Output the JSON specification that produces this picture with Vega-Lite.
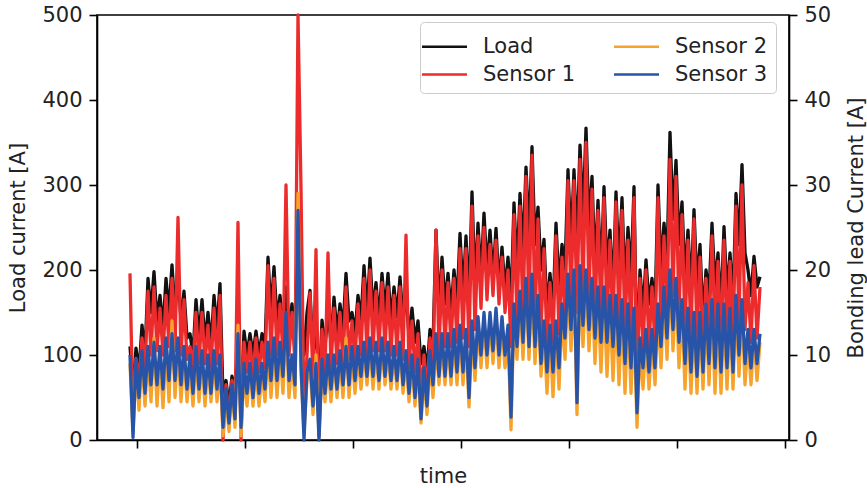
{
"$schema": "https://vega.github.io/schema/vega-lite/v6.json",
"width": 692, "height": 425,
"autosize": {"type": "none"},
"padding": {"left": 97, "top": 15, "right": 78, "bottom": 48},
"config": {
 "font": "DejaVu Sans",
 "view": {"stroke": "#000", "strokeWidth": 1.6},
 "axis": {"domainColor": "#000", "domainWidth": 1.6, "tickColor": "#000", "tickWidth": 1.6, "tickSize": 8, "labelFontSize": 21, "labelColor": "#222", "labelPadding": 7, "titleFontSize": 21, "titleFontWeight": "normal", "titleColor": "#222", "grid": false}
},
"data": {"values": [
{"t":-7,"Load":110,"Sensor 1":19.6,"Sensor 2":9.0,"Sensor 3":10.0},
{"t":-4,"Load":60,"Sensor 1":2.5,"Sensor 2":1.0,"Sensor 3":0.3},
{"t":-1,"Load":108,"Sensor 1":9.6,"Sensor 2":8.5,"Sensor 3":9.5},
{"t":2,"Load":80,"Sensor 1":7.0,"Sensor 2":3.5,"Sensor 3":5.0},
{"t":5,"Load":135,"Sensor 1":12.0,"Sensor 2":9.5,"Sensor 3":10.5},
{"t":8,"Load":100,"Sensor 1":8.5,"Sensor 2":4.0,"Sensor 3":5.5},
{"t":11,"Load":190,"Sensor 1":17.5,"Sensor 2":10.0,"Sensor 3":11.0},
{"t":14,"Load":150,"Sensor 1":10.0,"Sensor 2":4.5,"Sensor 3":6.5},
{"t":17,"Load":198,"Sensor 1":18.0,"Sensor 2":12.0,"Sensor 3":11.5},
{"t":20,"Load":140,"Sensor 1":10.5,"Sensor 2":4.0,"Sensor 3":6.5},
{"t":23,"Load":170,"Sensor 1":15.5,"Sensor 2":10.0,"Sensor 3":11.0},
{"t":26,"Load":130,"Sensor 1":10.0,"Sensor 2":3.8,"Sensor 3":6.0},
{"t":29,"Load":190,"Sensor 1":17.0,"Sensor 2":11.0,"Sensor 3":12.0},
{"t":32,"Load":150,"Sensor 1":11.0,"Sensor 2":4.5,"Sensor 3":7.0},
{"t":35,"Load":206,"Sensor 1":19.0,"Sensor 2":14.0,"Sensor 3":12.5},
{"t":38,"Load":150,"Sensor 1":10.5,"Sensor 2":5.0,"Sensor 3":7.0},
{"t":41,"Load":195,"Sensor 1":26.2,"Sensor 2":11.0,"Sensor 3":12.0},
{"t":44,"Load":140,"Sensor 1":10.0,"Sensor 2":4.5,"Sensor 3":6.5},
{"t":47,"Load":175,"Sensor 1":16.5,"Sensor 2":10.0,"Sensor 3":11.0},
{"t":50,"Load":120,"Sensor 1":9.5,"Sensor 2":4.5,"Sensor 3":6.0},
{"t":53,"Load":125,"Sensor 1":11.0,"Sensor 2":9.0,"Sensor 3":10.0},
{"t":56,"Load":100,"Sensor 1":8.5,"Sensor 2":4.0,"Sensor 3":5.5},
{"t":59,"Load":165,"Sensor 1":15.0,"Sensor 2":10.0,"Sensor 3":11.0},
{"t":62,"Load":120,"Sensor 1":9.0,"Sensor 2":4.5,"Sensor 3":6.0},
{"t":65,"Load":165,"Sensor 1":15.0,"Sensor 2":9.5,"Sensor 3":10.5},
{"t":68,"Load":115,"Sensor 1":9.0,"Sensor 2":4.0,"Sensor 3":5.5},
{"t":71,"Load":150,"Sensor 1":13.5,"Sensor 2":9.0,"Sensor 3":10.0},
{"t":74,"Load":110,"Sensor 1":8.5,"Sensor 2":4.5,"Sensor 3":5.5},
{"t":77,"Load":170,"Sensor 1":15.5,"Sensor 2":9.5,"Sensor 3":10.5},
{"t":80,"Load":130,"Sensor 1":9.0,"Sensor 2":4.5,"Sensor 3":6.0},
{"t":83,"Load":184,"Sensor 1":17.0,"Sensor 2":9.0,"Sensor 3":10.0},
{"t":86,"Load":50,"Sensor 1":0.0,"Sensor 2":0.5,"Sensor 3":1.5},
{"t":89,"Load":70,"Sensor 1":6.5,"Sensor 2":5.0,"Sensor 3":6.0},
{"t":92,"Load":40,"Sensor 1":2.5,"Sensor 2":1.0,"Sensor 3":2.0},
{"t":95,"Load":75,"Sensor 1":7.0,"Sensor 2":6.0,"Sensor 3":6.5},
{"t":98,"Load":55,"Sensor 1":3.0,"Sensor 2":1.5,"Sensor 3":2.5},
{"t":101,"Load":100,"Sensor 1":25.6,"Sensor 2":13.5,"Sensor 3":12.5},
{"t":104,"Load":40,"Sensor 1":0.0,"Sensor 2":0.5,"Sensor 3":1.5},
{"t":107,"Load":128,"Sensor 1":11.5,"Sensor 2":8.0,"Sensor 3":9.0},
{"t":110,"Load":100,"Sensor 1":8.0,"Sensor 2":4.0,"Sensor 3":5.5},
{"t":113,"Load":125,"Sensor 1":11.5,"Sensor 2":8.5,"Sensor 3":9.0},
{"t":116,"Load":100,"Sensor 1":7.5,"Sensor 2":4.0,"Sensor 3":5.0},
{"t":119,"Load":128,"Sensor 1":12.0,"Sensor 2":8.5,"Sensor 3":9.5},
{"t":122,"Load":100,"Sensor 1":8.0,"Sensor 2":4.0,"Sensor 3":5.5},
{"t":125,"Load":125,"Sensor 1":11.5,"Sensor 2":8.0,"Sensor 3":9.0},
{"t":128,"Load":110,"Sensor 1":8.5,"Sensor 2":4.5,"Sensor 3":6.0},
{"t":131,"Load":215,"Sensor 1":20.5,"Sensor 2":10.5,"Sensor 3":11.5},
{"t":134,"Load":150,"Sensor 1":10.0,"Sensor 2":5.0,"Sensor 3":7.0},
{"t":137,"Load":204,"Sensor 1":19.0,"Sensor 2":11.0,"Sensor 3":12.0},
{"t":140,"Load":140,"Sensor 1":10.0,"Sensor 2":5.0,"Sensor 3":7.0},
{"t":143,"Load":170,"Sensor 1":16.0,"Sensor 2":10.5,"Sensor 3":11.5},
{"t":146,"Load":130,"Sensor 1":10.0,"Sensor 2":5.5,"Sensor 3":7.5},
{"t":149,"Load":180,"Sensor 1":30.0,"Sensor 2":14.0,"Sensor 3":15.0},
{"t":152,"Load":130,"Sensor 1":10.0,"Sensor 2":5.0,"Sensor 3":7.0},
{"t":155,"Load":160,"Sensor 1":15.0,"Sensor 2":9.5,"Sensor 3":10.0},
{"t":158,"Load":120,"Sensor 1":9.0,"Sensor 2":5.0,"Sensor 3":6.5},
{"t":161,"Load":165,"Sensor 1":50.0,"Sensor 2":29.0,"Sensor 3":27.0},
{"t":164,"Load":150,"Sensor 1":29.6,"Sensor 2":8.0,"Sensor 3":9.0},
{"t":167,"Load":100,"Sensor 1":3.0,"Sensor 2":1.0,"Sensor 3":0.0},
{"t":170,"Load":150,"Sensor 1":10.0,"Sensor 2":7.0,"Sensor 3":8.0},
{"t":173,"Load":176,"Sensor 1":17.3,"Sensor 2":8.5,"Sensor 3":9.5},
{"t":176,"Load":100,"Sensor 1":7.0,"Sensor 2":3.0,"Sensor 3":4.0},
{"t":179,"Load":140,"Sensor 1":22.4,"Sensor 2":10.0,"Sensor 3":9.0},
{"t":182,"Load":50,"Sensor 1":0.5,"Sensor 2":0.5,"Sensor 3":0.0},
{"t":185,"Load":141,"Sensor 1":13.0,"Sensor 2":8.5,"Sensor 3":9.5},
{"t":188,"Load":110,"Sensor 1":8.0,"Sensor 2":4.5,"Sensor 3":5.5},
{"t":191,"Load":150,"Sensor 1":22.0,"Sensor 2":9.0,"Sensor 3":10.0},
{"t":194,"Load":115,"Sensor 1":8.5,"Sensor 2":4.5,"Sensor 3":6.0},
{"t":197,"Load":168,"Sensor 1":15.5,"Sensor 2":9.5,"Sensor 3":10.0},
{"t":200,"Load":125,"Sensor 1":9.0,"Sensor 2":5.0,"Sensor 3":6.0},
{"t":203,"Load":160,"Sensor 1":15.0,"Sensor 2":9.5,"Sensor 3":10.5},
{"t":206,"Load":130,"Sensor 1":9.0,"Sensor 2":5.0,"Sensor 3":6.5},
{"t":209,"Load":196,"Sensor 1":18.0,"Sensor 2":12.0,"Sensor 3":11.0},
{"t":212,"Load":140,"Sensor 1":9.5,"Sensor 2":5.0,"Sensor 3":6.5},
{"t":215,"Load":150,"Sensor 1":14.0,"Sensor 2":10.0,"Sensor 3":11.0},
{"t":218,"Load":125,"Sensor 1":9.5,"Sensor 2":5.5,"Sensor 3":7.0},
{"t":221,"Load":170,"Sensor 1":16.0,"Sensor 2":10.0,"Sensor 3":11.0},
{"t":224,"Load":140,"Sensor 1":10.0,"Sensor 2":6.0,"Sensor 3":7.5},
{"t":227,"Load":205,"Sensor 1":19.0,"Sensor 2":10.5,"Sensor 3":11.5},
{"t":230,"Load":150,"Sensor 1":10.0,"Sensor 2":6.5,"Sensor 3":7.5},
{"t":233,"Load":214,"Sensor 1":20.0,"Sensor 2":11.0,"Sensor 3":12.0},
{"t":236,"Load":150,"Sensor 1":10.5,"Sensor 2":6.0,"Sensor 3":7.5},
{"t":239,"Load":185,"Sensor 1":17.5,"Sensor 2":10.5,"Sensor 3":11.5},
{"t":242,"Load":140,"Sensor 1":10.5,"Sensor 2":6.0,"Sensor 3":7.0},
{"t":245,"Load":196,"Sensor 1":18.5,"Sensor 2":11.0,"Sensor 3":12.0},
{"t":248,"Load":150,"Sensor 1":10.5,"Sensor 2":6.5,"Sensor 3":7.5},
{"t":251,"Load":196,"Sensor 1":18.0,"Sensor 2":10.5,"Sensor 3":11.5},
{"t":254,"Load":140,"Sensor 1":10.0,"Sensor 2":6.0,"Sensor 3":7.0},
{"t":257,"Load":180,"Sensor 1":17.0,"Sensor 2":10.0,"Sensor 3":11.0},
{"t":260,"Load":145,"Sensor 1":10.0,"Sensor 2":6.0,"Sensor 3":7.0},
{"t":263,"Load":192,"Sensor 1":18.0,"Sensor 2":11.0,"Sensor 3":11.5},
{"t":266,"Load":140,"Sensor 1":9.5,"Sensor 2":5.5,"Sensor 3":6.5},
{"t":269,"Load":176,"Sensor 1":24.1,"Sensor 2":9.5,"Sensor 3":10.5},
{"t":272,"Load":120,"Sensor 1":8.5,"Sensor 2":4.5,"Sensor 3":5.5},
{"t":275,"Load":155,"Sensor 1":14.0,"Sensor 2":9.0,"Sensor 3":10.0},
{"t":278,"Load":115,"Sensor 1":8.0,"Sensor 2":4.0,"Sensor 3":5.0},
{"t":281,"Load":140,"Sensor 1":12.5,"Sensor 2":9.0,"Sensor 3":9.5},
{"t":284,"Load":90,"Sensor 1":5.0,"Sensor 2":2.0,"Sensor 3":2.5},
{"t":287,"Load":110,"Sensor 1":10.0,"Sensor 2":7.5,"Sensor 3":8.5},
{"t":290,"Load":80,"Sensor 1":5.5,"Sensor 2":3.0,"Sensor 3":4.0},
{"t":293,"Load":130,"Sensor 1":12.0,"Sensor 2":9.5,"Sensor 3":10.5},
{"t":296,"Load":110,"Sensor 1":8.5,"Sensor 2":5.0,"Sensor 3":6.5},
{"t":299,"Load":247,"Sensor 1":24.7,"Sensor 2":11.5,"Sensor 3":12.5},
{"t":302,"Load":150,"Sensor 1":10.5,"Sensor 2":6.5,"Sensor 3":7.5},
{"t":305,"Load":215,"Sensor 1":20.0,"Sensor 2":11.5,"Sensor 3":12.5},
{"t":308,"Load":160,"Sensor 1":11.0,"Sensor 2":6.5,"Sensor 3":7.5},
{"t":311,"Load":196,"Sensor 1":18.5,"Sensor 2":11.5,"Sensor 3":12.5},
{"t":314,"Load":150,"Sensor 1":11.0,"Sensor 2":6.5,"Sensor 3":7.5},
{"t":317,"Load":200,"Sensor 1":19.0,"Sensor 2":12.0,"Sensor 3":13.0},
{"t":320,"Load":160,"Sensor 1":11.5,"Sensor 2":6.5,"Sensor 3":8.0},
{"t":323,"Load":243,"Sensor 1":22.5,"Sensor 2":12.5,"Sensor 3":13.5},
{"t":326,"Load":170,"Sensor 1":12.0,"Sensor 2":6.5,"Sensor 3":8.0},
{"t":329,"Load":240,"Sensor 1":22.5,"Sensor 2":12.0,"Sensor 3":13.0},
{"t":332,"Load":160,"Sensor 1":11.0,"Sensor 2":3.9,"Sensor 3":5.0},
{"t":335,"Load":292,"Sensor 1":27.5,"Sensor 2":13.0,"Sensor 3":14.0},
{"t":338,"Load":180,"Sensor 1":13.0,"Sensor 2":7.0,"Sensor 3":8.5},
{"t":341,"Load":255,"Sensor 1":24.0,"Sensor 2":13.5,"Sensor 3":14.5},
{"t":344,"Load":190,"Sensor 1":15.5,"Sensor 2":8.5,"Sensor 3":10.0},
{"t":347,"Load":267,"Sensor 1":25.0,"Sensor 2":14.0,"Sensor 3":15.0},
{"t":350,"Load":200,"Sensor 1":16.5,"Sensor 2":8.5,"Sensor 3":10.0},
{"t":353,"Load":247,"Sensor 1":23.0,"Sensor 2":14.0,"Sensor 3":15.0},
{"t":356,"Load":190,"Sensor 1":17.0,"Sensor 2":9.0,"Sensor 3":10.5},
{"t":359,"Load":249,"Sensor 1":23.5,"Sensor 2":14.5,"Sensor 3":15.5},
{"t":362,"Load":180,"Sensor 1":16.0,"Sensor 2":8.5,"Sensor 3":10.0},
{"t":365,"Load":227,"Sensor 1":21.5,"Sensor 2":13.5,"Sensor 3":14.5},
{"t":368,"Load":175,"Sensor 1":15.0,"Sensor 2":8.5,"Sensor 3":10.0},
{"t":371,"Load":215,"Sensor 1":20.0,"Sensor 2":12.5,"Sensor 3":13.5},
{"t":374,"Load":160,"Sensor 1":11.0,"Sensor 2":1.2,"Sensor 3":2.7},
{"t":377,"Load":279,"Sensor 1":26.5,"Sensor 2":15.0,"Sensor 3":16.0},
{"t":380,"Load":200,"Sensor 1":14.0,"Sensor 2":9.5,"Sensor 3":11.0},
{"t":383,"Load":290,"Sensor 1":27.5,"Sensor 2":16.5,"Sensor 3":17.5},
{"t":386,"Load":220,"Sensor 1":14.0,"Sensor 2":9.5,"Sensor 3":11.5},
{"t":389,"Load":321,"Sensor 1":31.0,"Sensor 2":18.0,"Sensor 3":19.0},
{"t":392,"Load":240,"Sensor 1":14.5,"Sensor 2":9.5,"Sensor 3":11.0},
{"t":395,"Load":345,"Sensor 1":33.5,"Sensor 2":18.0,"Sensor 3":19.5},
{"t":398,"Load":230,"Sensor 1":14.0,"Sensor 2":9.0,"Sensor 3":11.0},
{"t":401,"Load":274,"Sensor 1":26.0,"Sensor 2":16.0,"Sensor 3":17.0},
{"t":404,"Load":200,"Sensor 1":12.5,"Sensor 2":7.5,"Sensor 3":9.0},
{"t":407,"Load":236,"Sensor 1":22.5,"Sensor 2":13.0,"Sensor 3":14.0},
{"t":410,"Load":150,"Sensor 1":11.0,"Sensor 2":5.5,"Sensor 3":8.0},
{"t":413,"Load":196,"Sensor 1":18.5,"Sensor 2":12.5,"Sensor 3":13.5},
{"t":416,"Load":150,"Sensor 1":11.5,"Sensor 2":5.1,"Sensor 3":8.0},
{"t":419,"Load":255,"Sensor 1":24.0,"Sensor 2":13.0,"Sensor 3":14.0},
{"t":422,"Load":180,"Sensor 1":12.5,"Sensor 2":6.0,"Sensor 3":8.5},
{"t":425,"Load":230,"Sensor 1":21.5,"Sensor 2":15.0,"Sensor 3":16.0},
{"t":428,"Load":200,"Sensor 1":14.0,"Sensor 2":9.5,"Sensor 3":12.0},
{"t":431,"Load":318,"Sensor 1":30.5,"Sensor 2":18.5,"Sensor 3":19.5},
{"t":434,"Load":230,"Sensor 1":16.0,"Sensor 2":10.5,"Sensor 3":13.0},
{"t":437,"Load":318,"Sensor 1":30.5,"Sensor 2":19.0,"Sensor 3":20.0},
{"t":440,"Load":230,"Sensor 1":15.0,"Sensor 2":3.0,"Sensor 3":4.4},
{"t":443,"Load":347,"Sensor 1":33.0,"Sensor 2":19.5,"Sensor 3":20.5},
{"t":446,"Load":260,"Sensor 1":17.0,"Sensor 2":11.0,"Sensor 3":13.5},
{"t":449,"Load":367,"Sensor 1":35.0,"Sensor 2":19.0,"Sensor 3":20.0},
{"t":452,"Load":250,"Sensor 1":16.5,"Sensor 2":10.5,"Sensor 3":13.0},
{"t":455,"Load":310,"Sensor 1":29.5,"Sensor 2":18.0,"Sensor 3":19.0},
{"t":458,"Load":200,"Sensor 1":14.0,"Sensor 2":9.0,"Sensor 3":12.0},
{"t":461,"Load":282,"Sensor 1":27.0,"Sensor 2":17.0,"Sensor 3":18.0},
{"t":464,"Load":190,"Sensor 1":14.0,"Sensor 2":8.0,"Sensor 3":11.5},
{"t":467,"Load":298,"Sensor 1":28.5,"Sensor 2":17.0,"Sensor 3":18.0},
{"t":470,"Load":200,"Sensor 1":14.0,"Sensor 2":7.5,"Sensor 3":11.5},
{"t":473,"Load":247,"Sensor 1":23.5,"Sensor 2":16.0,"Sensor 3":17.0},
{"t":476,"Load":170,"Sensor 1":13.0,"Sensor 2":7.0,"Sensor 3":11.0},
{"t":479,"Load":292,"Sensor 1":28.0,"Sensor 2":16.0,"Sensor 3":17.0},
{"t":482,"Load":200,"Sensor 1":13.0,"Sensor 2":6.5,"Sensor 3":10.0},
{"t":485,"Load":285,"Sensor 1":27.0,"Sensor 2":15.5,"Sensor 3":16.5},
{"t":488,"Load":180,"Sensor 1":12.5,"Sensor 2":5.5,"Sensor 3":9.0},
{"t":491,"Load":250,"Sensor 1":23.5,"Sensor 2":15.0,"Sensor 3":16.0},
{"t":494,"Load":190,"Sensor 1":12.0,"Sensor 2":5.5,"Sensor 3":8.5},
{"t":497,"Load":298,"Sensor 1":28.5,"Sensor 2":14.5,"Sensor 3":15.5},
{"t":500,"Load":90,"Sensor 1":7.0,"Sensor 2":1.5,"Sensor 3":3.2},
{"t":503,"Load":200,"Sensor 1":19.0,"Sensor 2":11.0,"Sensor 3":12.0},
{"t":506,"Load":150,"Sensor 1":10.5,"Sensor 2":6.0,"Sensor 3":8.5},
{"t":509,"Load":212,"Sensor 1":20.0,"Sensor 2":12.0,"Sensor 3":13.0},
{"t":512,"Load":160,"Sensor 1":11.0,"Sensor 2":6.0,"Sensor 3":8.0},
{"t":515,"Load":190,"Sensor 1":18.0,"Sensor 2":12.0,"Sensor 3":13.0},
{"t":518,"Load":150,"Sensor 1":11.0,"Sensor 2":6.5,"Sensor 3":8.5},
{"t":521,"Load":300,"Sensor 1":28.5,"Sensor 2":15.0,"Sensor 3":16.0},
{"t":524,"Load":200,"Sensor 1":13.0,"Sensor 2":8.5,"Sensor 3":11.0},
{"t":527,"Load":255,"Sensor 1":24.0,"Sensor 2":17.0,"Sensor 3":18.0},
{"t":530,"Load":210,"Sensor 1":15.0,"Sensor 2":9.5,"Sensor 3":12.0},
{"t":533,"Load":362,"Sensor 1":33.0,"Sensor 2":19.0,"Sensor 3":20.0},
{"t":536,"Load":260,"Sensor 1":17.0,"Sensor 2":10.5,"Sensor 3":13.0},
{"t":539,"Load":329,"Sensor 1":31.0,"Sensor 2":18.0,"Sensor 3":19.0},
{"t":542,"Load":230,"Sensor 1":14.5,"Sensor 2":8.5,"Sensor 3":11.5},
{"t":545,"Load":280,"Sensor 1":26.5,"Sensor 2":15.5,"Sensor 3":16.5},
{"t":548,"Load":190,"Sensor 1":13.0,"Sensor 2":6.0,"Sensor 3":9.0},
{"t":551,"Load":247,"Sensor 1":23.5,"Sensor 2":14.5,"Sensor 3":15.5},
{"t":554,"Load":170,"Sensor 1":12.0,"Sensor 2":5.5,"Sensor 3":8.0},
{"t":557,"Load":271,"Sensor 1":26.0,"Sensor 2":14.0,"Sensor 3":15.0},
{"t":560,"Load":180,"Sensor 1":12.0,"Sensor 2":5.5,"Sensor 3":7.5},
{"t":563,"Load":230,"Sensor 1":21.5,"Sensor 2":14.0,"Sensor 3":15.0},
{"t":566,"Load":140,"Sensor 1":10.0,"Sensor 2":6.0,"Sensor 3":8.0},
{"t":569,"Load":200,"Sensor 1":19.0,"Sensor 2":15.0,"Sensor 3":16.0},
{"t":572,"Load":170,"Sensor 1":12.0,"Sensor 2":6.5,"Sensor 3":9.0},
{"t":575,"Load":255,"Sensor 1":24.0,"Sensor 2":15.5,"Sensor 3":16.5},
{"t":578,"Load":180,"Sensor 1":12.5,"Sensor 2":5.5,"Sensor 3":8.5},
{"t":581,"Load":220,"Sensor 1":21.0,"Sensor 2":15.0,"Sensor 3":16.0},
{"t":584,"Load":150,"Sensor 1":11.0,"Sensor 2":5.5,"Sensor 3":8.0},
{"t":587,"Load":251,"Sensor 1":23.5,"Sensor 2":15.0,"Sensor 3":16.0},
{"t":590,"Load":170,"Sensor 1":12.0,"Sensor 2":6.0,"Sensor 3":8.5},
{"t":593,"Load":220,"Sensor 1":21.0,"Sensor 2":14.5,"Sensor 3":15.5},
{"t":596,"Load":160,"Sensor 1":11.5,"Sensor 2":6.0,"Sensor 3":8.0},
{"t":599,"Load":290,"Sensor 1":27.5,"Sensor 2":16.0,"Sensor 3":17.0},
{"t":602,"Load":230,"Sensor 1":14.0,"Sensor 2":7.5,"Sensor 3":10.0},
{"t":605,"Load":324,"Sensor 1":30.0,"Sensor 2":15.5,"Sensor 3":16.5},
{"t":608,"Load":220,"Sensor 1":13.0,"Sensor 2":6.5,"Sensor 3":9.0},
{"t":611,"Load":200,"Sensor 1":18.5,"Sensor 2":12.0,"Sensor 3":13.0},
{"t":614,"Load":170,"Sensor 1":11.5,"Sensor 2":6.5,"Sensor 3":8.5},
{"t":617,"Load":216,"Sensor 1":20.5,"Sensor 2":12.0,"Sensor 3":13.0},
{"t":620,"Load":180,"Sensor 1":12.0,"Sensor 2":7.0,"Sensor 3":9.0},
{"t":623,"Load":192,"Sensor 1":18.0,"Sensor 2":11.5,"Sensor 3":12.5}
]},
"transform": [{"fold": ["Load", "Sensor 1", "Sensor 2", "Sensor 3"], "as": ["series", "value"]}],
"encoding": {
 "x": {"field": "t", "type": "quantitative", "scale": {"domain": [-40, 652], "nice": false, "zero": false},
  "axis": {"title": "time", "labels": false, "values": [0, 108, 216, 324, 432, 540, 648], "titleY": 42, "titleBaseline": "alphabetic"}},
 "color": {"field": "series", "type": "nominal",
  "scale": {"domain": ["Load", "Sensor 1", "Sensor 2", "Sensor 3"], "range": ["#111111", "#ec2c2c", "#f7a22b", "#2754a8"]},
  "legend": {"title": null, "orient": "none", "legendX": 323, "legendY": 7, "columns": 2, "symbolType": "M-1.5,0H1.5", "symbolSize": 900, "symbolStrokeWidth": 2.5, "labelFontSize": 21, "labelColor": "#222", "labelOffset": 22, "columnPadding": 33, "rowPadding": 1, "padding": 8, "strokeColor": "#cccccc", "fillColor": "white", "cornerRadius": 4}}
},
"layer": [
 {
  "transform": [{"filter": "datum.series === 'Load'"}],
  "mark": {"type": "line", "strokeWidth": 3.3, "strokeJoin": "round"},
  "encoding": {
   "y": {"field": "value", "type": "quantitative", "scale": {"domain": [0, 500], "nice": false},
    "axis": {"title": "Load current [A]", "values": [0, 100, 200, 300, 400, 500], "titleX": -79, "titleY": 212.5, "titleAngle": 270, "titleBaseline": "middle", "titleAlign": "center"}}
  }
 },
 {
  "encoding": {
   "y": {"field": "value", "type": "quantitative", "scale": {"domain": [0, 50], "nice": false},
    "axis": {"orient": "right", "title": "Bonding lead Current [A]", "values": [0, 10, 20, 30, 40, 50], "titleX": 67, "titleY": 212.5, "titleAngle": 270, "titleBaseline": "middle", "titleAlign": "center"}}
  },
  "layer": [
   {"transform": [{"filter": "datum.series === 'Sensor 1'"}], "mark": {"type": "line", "strokeWidth": 3.3, "strokeJoin": "round"}},
   {"transform": [{"filter": "datum.series === 'Sensor 2'"}], "mark": {"type": "line", "strokeWidth": 3.3, "strokeJoin": "round"}},
   {"transform": [{"filter": "datum.series === 'Sensor 3'"}], "mark": {"type": "line", "strokeWidth": 3.3, "strokeJoin": "round"}}
  ]
 }
],
"resolve": {"scale": {"y": "independent"}}
}
